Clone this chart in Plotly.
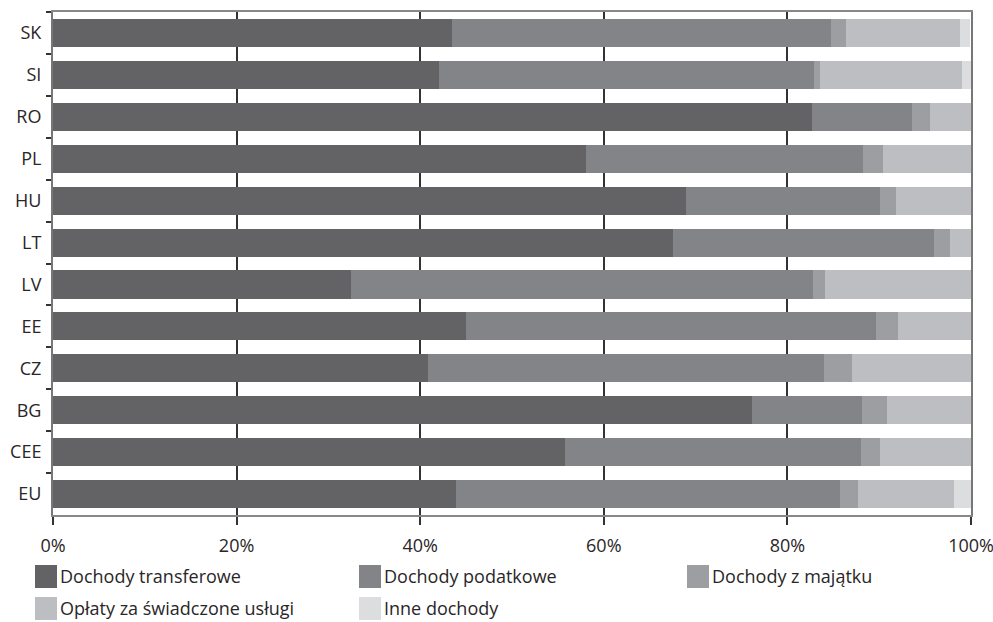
import plotly.graph_objects as go

categories = ["SK", "SI", "RO", "PL", "HU", "LT", "LV", "EE", "CZ", "BG", "CEE", "EU"]
transfer = [43.5, 42.1, 82.7, 58.1, 68.9, 67.5, 32.5, 45.0, 40.8, 76.1, 55.8, 43.9]
tax      = [41.3, 40.8, 10.9, 30.1, 21.2, 28.5, 50.3, 44.6, 43.2, 12.0, 32.2, 41.8]
prop     = [1.6, 0.7, 1.9, 2.2, 1.7, 1.7, 1.3, 2.4, 3.0, 2.8, 2.1, 2.0]
fees     = [12.4, 15.4, 4.5, 9.6, 8.2, 2.3, 15.9, 8.0, 13.0, 9.1, 9.9, 10.4]
other    = [1.1, 1.1, 0.0, 0.0, 0.0, 0.0, 0.0, 0.0, 0.0, 0.0, 0.0, 1.9]

series_names = ["Dochody transferowe", "Dochody podatkowe", "Dochody z majątku",
                "Opłaty za świadczone usługi", "Inne dochody"]
series_values = [transfer, tax, prop, fees, other]
colors = ["#636365", "#838487", "#9d9ea1", "#bdbec2", "#dcdddf"]
tick_vals = [0, 20, 40, 60, 80, 100]
tick_text = ["0%", "20%", "40%", "60%", "80%", "100%"]

FONT = "Open Sans"
TXT = "#2a2627"

fig = go.Figure()
for name, vals, col in zip(series_names, series_values, colors):
    fig.add_trace(go.Bar(y=categories, x=vals, orientation="h", name=name,
                         marker=dict(color=col, line=dict(width=0)),
                         showlegend=False))

W, H = 993, 622
ML, MR, MT, MB = 53, 22, 12, 107
pw, ph = W - ML - MR, H - MT - MB

def px(x):
    return (x - ML) / pw

def py(y):
    return (H - MB - y) / ph

# legend (manual layout: positions in pixels)
legend_pos = [(35, 565), (359, 565), (687, 565), (35, 597), (359, 597)]
shapes = []
annotations = []
for (lx, ly), name, col in zip(legend_pos, series_names, colors):
    shapes.append(dict(type="rect", xref="paper", yref="paper",
                       x0=px(lx), x1=px(lx + 22), y0=py(ly), y1=py(ly + 23),
                       fillcolor=col, line=dict(width=0), layer="above"))
    annotations.append(dict(xref="paper", yref="paper", x=px(lx + 23), y=py(ly + 10.5),
                            text=name, showarrow=False, xanchor="left", yanchor="middle",
                            font=dict(family=FONT, size=18, color=TXT)))

fig.update_layout(
    width=W, height=H,
    margin=dict(l=ML, r=MR, t=MT, b=MB, autoexpand=False),
    barmode="stack", bargap=0.33,
    plot_bgcolor="white", paper_bgcolor="white",
    font=dict(family=FONT, size=18, color=TXT),
    shapes=shapes, annotations=annotations,
    showlegend=False,
)
fig.update_xaxes(range=[0, 100], tickvals=tick_vals, ticktext=tick_text,
                 ticks="outside", ticklen=8, tickwidth=1.5, tickcolor="#333",
                 showgrid=True, gridcolor="#333", gridwidth=1.5,
                 showline=True, linecolor="#888", linewidth=2, mirror=True,
                 zeroline=False, ticklabelstandoff=5, ticklabeloverflow="allow",
                 automargin=False,
                 tickfont=dict(family=FONT, size=18, color=TXT))
fig.update_yaxes(categoryorder="array", categoryarray=categories, autorange="reversed",
                 ticks="outside", ticklen=5, tickwidth=1.5, tickcolor="#333",
                 tickson="boundaries", showgrid=False,
                 showline=True, linecolor="#777", linewidth=2, mirror=True,
                 ticklabelstandoff=6, automargin=False,
                 tickfont=dict(family=FONT, size=18, color=TXT))

fig.write_html("out.html")
